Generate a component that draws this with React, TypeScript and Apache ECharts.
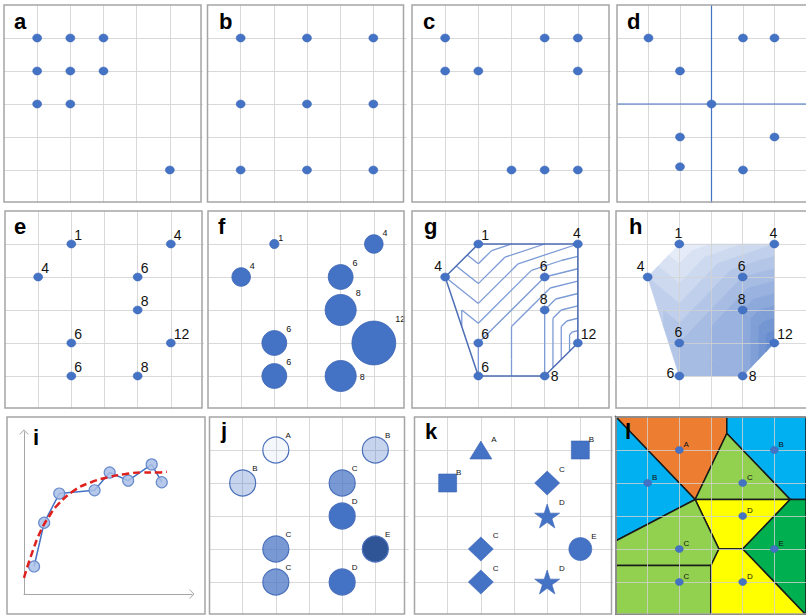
import React, { useEffect, useRef } from "react";
import * as echarts from "echarts";

// ---------------- Data ----------------
// panels a-d: point patterns
const aX = [1, 2, 3, 1, 2, 3, 1, 2, 5];
const aY = [5, 5, 5, 4, 4, 4, 3, 3, 1];
const bX = [1, 3, 5, 1, 3, 5, 1, 3, 5];
const bY = [5, 5, 5, 3, 3, 3, 1, 1, 1];
const cX = [1, 4, 5, 1, 2, 5, 3, 4, 5];
const cY = [5, 5, 5, 4, 4, 4, 1, 1, 1];
const dX = [1, 4, 5, 2, 3, 2, 5, 2, 4];
const dY = [5, 5, 5, 4, 3, 2, 2, 1.1, 1];
const dCrossX = 3;
const dCrossY = 3;

// panels e-l: sampled sites
const siteX = [2, 5, 1, 4, 4, 2, 5, 2, 4];
const siteY = [5, 5, 4, 4, 3, 2, 2, 1, 1];
const siteValue = [1, 4, 4, 6, 8, 6, 12, 6, 8];
const siteClass = ["A", "B", "B", "C", "D", "C", "E", "C", "D"];
const contourLevels = [2, 3, 4, 5, 6, 7, 8, 9, 10, 11];
const bandBreaks = [1, 2, 3, 4, 5, 6, 7, 8, 9, 10, 11, 12];

// panel i: observations and fitted curve
const iX = [0.6, 1.2, 2.1, 4.2, 5.1, 6.2, 7.6, 8.2];
const iY = [1.7, 4.4, 6.2, 6.4, 7.5, 7.0, 8.0, 6.9];
const fitX = [0, 0.5, 1, 1.5, 2, 3, 4, 5, 6, 7, 8, 8.5];
const fitY = [1.0, 2.6, 3.9, 4.8, 5.5, 6.4, 6.9, 7.2, 7.4, 7.5, 7.5, 7.55];

// ---------------- Styles / layout ----------------
const BLUE = "#4472C4";
const FONT = "'Liberation Sans', Arial, sans-serif";
const AXIS_MIN = 0;
const AXIS_MAX = 6;
const GW = 199;
const GH = 198;
const gridPos: Record<string, [number, number]> = {
  a: [4, 5], b: [207.5, 5], c: [412, 5], d: [617, 5],
  e: [5, 211], f: [208, 211], g: [412, 211], h: [616, 211],
  j: [209.5, 417], k: [414.5, 417], l: [616, 417],
};
const iGrid = { left: 24, top: 432, width: 168, height: 162 };
const frames: [number, number, number, number][] = [
  [4, 5, 197, 197], [207.5, 5, 196, 197], [412, 5, 197, 197], [617, 5, 197, 197],
  [5, 211, 197, 197], [208, 211, 196, 197], [412, 211, 197, 197], [616, 211, 197, 197],
  [7, 417, 198, 197], [209.5, 417, 195, 197], [414.5, 417, 197, 197], [616, 417, 197, 197],
];
const letters: [string, number, number][] = [
  ["a", 14, 29], ["b", 219, 29], ["c", 423, 29], ["d", 627, 29],
  ["e", 14, 234], ["f", 218, 234], ["g", 424, 234], ["h", 629, 234],
  ["i", 33, 445], ["j", 221, 438], ["k", 425, 439], ["l", 625, 439],
];
const classFillJ: Record<string, string> = {
  A: "rgba(68,114,196,0.06)", B: "rgba(68,114,196,0.3)", C: "rgba(68,114,196,0.72)", D: "#4472C4", E: "#2F5597",
};
const STAR = "path://M50,0L61.2,34.5L97.6,34.5L68.2,55.9L79.4,90.5L50,69.1L20.6,90.5L31.8,55.9L2.4,34.5L38.8,34.5Z";
const classSymbolK: Record<string, [string, number[]]> = {
  A: ["triangle", [22, 18]], B: ["rect", [18, 18]], C: ["diamond", [25, 24]], D: [STAR, [25, 24]], E: ["circle", [23, 23]],
};
const classColorL: Record<string, string> = {
  A: "#ED7D31", B: "#00B0F0", C: "#92D050", D: "#FFFF00", E: "#00B050",
};
const CHEVRON = "path://M0,10L10,0L20,10L18,10L10,2.4L2,10Z";

const ePlace = ["tr", "tr", "tr", "tr", "tr", "tr", "tr", "tr", "tr"];
const gPlace = ["tr", "t", "tl", "t", "t", "tr", "tr", "tr", "r"];
const hPlace = ["t", "t", "tl", "t", "t", "t", "tr", "l", "r"];
const fPlace = ["c", "c", "c", "c", "c", "c", "c", "c", "r"];

function placeLabel(p: string): any {
  switch (p) {
    case "t": return { position: "inside", align: "center", verticalAlign: "bottom", offset: [-1, -4] };
    case "tl": return { position: "inside", align: "right", verticalAlign: "bottom", offset: [-3, -4] };
    case "r": return { position: "inside", align: "left", verticalAlign: "middle", offset: [6, 0] };
    case "l": return { position: "inside", align: "right", verticalAlign: "middle", offset: [-5, -3] };
    default: return { position: "inside", align: "left", verticalAlign: "bottom", offset: [3, -2] };
  }
}

// ---------------- Geometry helpers ----------------
// Delaunay triangulation (brute force) with a lifted-paraboloid tie-break.
function delaunay(xs: number[], ys: number[]): number[][] {
  const n = xs.length;
  const cx0 = xs.reduce((s, v) => s + v, 0) / n;
  const cy0 = ys.reduce((s, v) => s + v, 0) / n;
  const lift = xs.map((x, i) => x * x + ys[i] * ys[i] - 1e-6 * Math.hypot(x - cx0, ys[i] - cy0));
  const tris: number[][] = [];
  for (let i = 0; i < n; i++)
    for (let j = i + 1; j < n; j++)
      for (let k = j + 1; k < n; k++) {
        let a = i, b = j, c = k;
        const orient = (xs[b] - xs[a]) * (ys[c] - ys[a]) - (ys[b] - ys[a]) * (xs[c] - xs[a]);
        if (Math.abs(orient) < 1e-12) continue;
        if (orient < 0) { const t = b; b = c; c = t; }
        let ok = true;
        for (let m = 0; m < n && ok; m++) {
          if (m === i || m === j || m === k) continue;
          const adx = xs[a] - xs[m], ady = ys[a] - ys[m], adh = lift[a] - lift[m];
          const bdx = xs[b] - xs[m], bdy = ys[b] - ys[m], bdh = lift[b] - lift[m];
          const cdx = xs[c] - xs[m], cdy = ys[c] - ys[m], cdh = lift[c] - lift[m];
          const det = adx * (bdy * cdh - bdh * cdy) - ady * (bdx * cdh - bdh * cdx) + adh * (bdx * cdy - bdy * cdx);
          if (det > 0) ok = false;
        }
        if (ok) tris.push([a, b, c]);
      }
  return tris;
}

function convexHull(xs: number[], ys: number[]): number[] {
  const idx = xs.map((_, i) => i).sort((a, b) => xs[a] - xs[b] || ys[a] - ys[b]);
  const cross = (o: number, a: number, b: number) =>
    (xs[a] - xs[o]) * (ys[b] - ys[o]) - (ys[a] - ys[o]) * (xs[b] - xs[o]);
  const lower: number[] = [];
  for (const p of idx) {
    while (lower.length >= 2 && cross(lower[lower.length - 2], lower[lower.length - 1], p) <= 0) lower.pop();
    lower.push(p);
  }
  const upper: number[] = [];
  for (const p of idx.slice().reverse()) {
    while (upper.length >= 2 && cross(upper[upper.length - 2], upper[upper.length - 1], p) <= 0) upper.pop();
    upper.push(p);
  }
  return lower.slice(0, -1).concat(upper.slice(0, -1));
}

function lerp(a: number[], b: number[], t: number): number[] {
  return a.map((v, i) => v + t * (b[i] - v));
}

function clipPoly(poly: number[][], f: (p: number[]) => number): number[][] {
  const out: number[][] = [];
  for (let i = 0; i < poly.length; i++) {
    const cur = poly[i];
    const prev = poly[(i + poly.length - 1) % poly.length];
    const fc = f(cur), fp = f(prev);
    if (fc >= 0) {
      if (fp < 0) out.push(lerp(prev, cur, fp / (fp - fc)));
      out.push(cur);
    } else if (fp >= 0) {
      out.push(lerp(prev, cur, fp / (fp - fc)));
    }
  }
  return out;
}

const TRIS = delaunay(siteX, siteY);

function contourSegments(): number[][][] {
  const segs: number[][][] = [];
  for (const L0 of contourLevels) {
    const L = L0 - 1e-6;
    for (const t of TRIS) {
      const pts: number[][] = [];
      for (const [a, b] of [[t[0], t[1]], [t[1], t[2]], [t[2], t[0]]]) {
        const va = siteValue[a] - L, vb = siteValue[b] - L;
        if (va > 0 !== vb > 0) {
          const s = va / (va - vb);
          pts.push([siteX[a] + s * (siteX[b] - siteX[a]), siteY[a] + s * (siteY[b] - siteY[a])]);
        }
      }
      if (pts.length === 2) segs.push(pts);
    }
  }
  return segs;
}

function bandColor(mid: number): string {
  const a = 0.1 + 0.75 * (mid - 1) / 11;
  const r = Math.round(255 - a * (255 - 68));
  const g = Math.round(255 - a * (255 - 114));
  const b = Math.round(255 - a * (255 - 196));
  return `rgb(${r},${g},${b})`;
}

function bandPolygons(): { pts: number[][]; fill: string }[] {
  const res: { pts: number[][]; fill: string }[] = [];
  for (let bi = 0; bi < bandBreaks.length - 1; bi++) {
    const lo = bandBreaks[bi], hi = bandBreaks[bi + 1];
    const fill = bandColor((lo + hi) / 2);
    for (const t of TRIS) {
      let poly = t.map((k) => [siteX[k], siteY[k], siteValue[k]]);
      if (bi > 0) poly = clipPoly(poly, (p) => p[2] - lo);
      if (poly.length < 3) continue;
      if (bi < bandBreaks.length - 2) poly = clipPoly(poly, (p) => hi - p[2]);
      if (poly.length < 3) continue;
      res.push({ pts: poly.map((p) => [p[0], p[1]]), fill });
    }
  }
  return res;
}

function voronoiCells(): { pts: number[][]; fill: string }[] {
  const cells: { pts: number[][]; fill: string }[] = [];
  for (let i = 0; i < siteX.length; i++) {
    let poly = [[AXIS_MIN, AXIS_MIN], [AXIS_MAX, AXIS_MIN], [AXIS_MAX, AXIS_MAX], [AXIS_MIN, AXIS_MAX]];
    for (let j = 0; j < siteX.length; j++) {
      if (j === i) continue;
      const nx = siteX[j] - siteX[i], ny = siteY[j] - siteY[i];
      const mx = (siteX[i] + siteX[j]) / 2, my = (siteY[i] + siteY[j]) / 2;
      poly = clipPoly(poly, (p) => -((p[0] - mx) * nx + (p[1] - my) * ny));
      if (poly.length < 3) break;
    }
    cells.push({ pts: poly, fill: classColorL[siteClass[i]] });
  }
  return cells;
}

function polygonSeries(ai: number, polys: { pts: number[][]; fill: string }[], stroke: string | null, lw: number, z: number): any {
  return {
    type: "custom",
    xAxisIndex: ai,
    yAxisIndex: ai,
    z,
    silent: true,
    data: polys.map((p) => p.pts[0]),
    renderItem: (params: any, api: any) => {
      const p = polys[params.dataIndex];
      return {
        type: "polygon",
        shape: { points: p.pts.map((q) => api.coord(q)) },
        style: { fill: p.fill, stroke: stroke || p.fill, lineWidth: stroke ? lw : 0.7 },
      };
    },
  };
}

// ---------------- Option ----------------
function buildOption(): any {
  const order = ["a", "b", "c", "d", "e", "f", "g", "h", "i", "j", "k", "l"];
  const grids: any[] = [];
  const xAxes: any[] = [];
  const yAxes: any[] = [];
  order.forEach((key, idx) => {
    if (key === "i") {
      grids.push({ ...iGrid });
      const ax = {
        gridIndex: idx, type: "value", min: 0, max: 10,
        axisLine: { show: true, onZero: false, symbol: ["none", CHEVRON], symbolSize: [10, 6], lineStyle: { color: "#a6a6a6", width: 1 } },
        axisTick: { show: false }, axisLabel: { show: false }, splitLine: { show: false },
      };
      xAxes.push({ ...ax });
      yAxes.push({ ...ax });
      return;
    }
    const [l, t] = gridPos[key];
    grids.push({ left: l, top: t, width: GW, height: GH });
    const overlay = key === "h" || key === "l";
    const ax = {
      gridIndex: idx, type: "value", min: AXIS_MIN, max: AXIS_MAX, interval: 1,
      axisLine: { show: false }, axisTick: { show: false }, axisLabel: { show: false },
      splitLine: {
        show: true, showMinLine: false, showMaxLine: false,
        lineStyle: { color: overlay ? "rgba(210,210,210,0.8)" : "#d9d9d9", width: 1 },
      },
      z: overlay ? 3 : 0,
    };
    xAxes.push({ ...ax });
    yAxes.push({ ...ax });
  });

  const dot = { color: BLUE, borderColor: "#3b65b3", borderWidth: 0.5, opacity: 1 };
  const simple = (ai: number, xs: number[], ys: number[], extra: any = {}) => ({
    type: "scatter", xAxisIndex: ai, yAxisIndex: ai, symbolSize: [9, 8], itemStyle: dot, z: 5,
    data: xs.map((x, i) => [x, ys[i]]), ...extra,
  });
  const valueLabel = (places: string[]) => ({
    data: siteX.map((x, i) => ({ value: [x, siteY[i]], label: placeLabel(places[i]) })),
    label: { show: true, fontSize: 14, color: "#111", fontFamily: FONT, formatter: (p: any) => String(siteValue[p.dataIndex]) },
  });
  const classLabel = (size: number, offset: number[]) => ({
    show: true, position: ["100%", "0%"], align: "left", verticalAlign: "bottom", offset,
    fontSize: size, color: "#111", fontFamily: FONT,
    formatter: (p: any) => siteClass[p.dataIndex],
  });

  const series: any[] = [];
  series.push(simple(0, aX, aY));
  series.push(simple(1, bX, bY));
  series.push(simple(2, cX, cY));
  // d: quadrat cross lines through the mean centre
  const crossLine = (pts: number[][]) => ({
    type: "line", xAxisIndex: 3, yAxisIndex: 3, z: 3, symbol: "none", silent: true,
    lineStyle: { color: BLUE, width: 1.2 }, data: pts,
  });
  series.push(crossLine([[dCrossX, AXIS_MIN], [dCrossX, AXIS_MAX]]));
  series.push(crossLine([[AXIS_MIN, dCrossY], [AXIS_MAX, dCrossY]]));
  series.push(simple(3, dX, dY));
  // e
  series.push(simple(4, siteX, siteY, valueLabel(ePlace)));
  // f bubbles
  series.push({
    type: "scatter", xAxisIndex: 5, yAxisIndex: 5, z: 5,
    itemStyle: { color: BLUE, borderColor: "#3b65b3", borderWidth: 0.8, opacity: 1 },
    symbolSize: (v: number[]) => 6 + 3.15 * v[2],
    data: siteX.map((x, i) => ({
      value: [x, siteY[i], siteValue[i]],
      label: fPlace[i] === "r"
        ? { position: "right", align: "left", verticalAlign: "middle", offset: [-2, 1] }
        : { position: ["100%", "0%"], align: "left", verticalAlign: "bottom", offset: [-1, 3] },
    })),
    label: { show: true, fontSize: 9, color: "#111", fontFamily: FONT, formatter: (p: any) => String(siteValue[p.dataIndex]) },
  });
  // g contours
  const segs = contourSegments();
  series.push({
    type: "custom", xAxisIndex: 6, yAxisIndex: 6, z: 3, silent: true,
    data: segs.map((s) => s[0]),
    renderItem: (params: any, api: any) => {
      const s = segs[params.dataIndex];
      const p1 = api.coord(s[0]);
      const p2 = api.coord(s[1]);
      return { type: "line", shape: { x1: p1[0], y1: p1[1], x2: p2[0], y2: p2[1] }, style: { stroke: "#7c9ad6", lineWidth: 1.3 } };
    },
  });
  const hull = convexHull(siteX, siteY);
  series.push({
    type: "line", xAxisIndex: 6, yAxisIndex: 6, z: 4, symbol: "none", silent: true,
    lineStyle: { color: "#4d6db5", width: 1.5 },
    data: hull.concat([hull[0]]).map((k) => [siteX[k], siteY[k]]),
  });
  series.push(simple(6, siteX, siteY, valueLabel(gPlace)));
  // h filled bands
  series.push(polygonSeries(7, bandPolygons(), null, 0.7, 2));
  series.push(simple(7, siteX, siteY, valueLabel(hPlace)));
  // i
  series.push({
    type: "line", xAxisIndex: 8, yAxisIndex: 8, z: 3,
    data: iX.map((x, k) => [x, iY[k]]),
    lineStyle: { color: BLUE, width: 1.5 },
    symbol: "circle", symbolSize: 11, showSymbol: true,
    itemStyle: { color: "rgba(170,192,230,0.85)", borderColor: "#6a8bcd", borderWidth: 1.2 },
  });
  series.push({
    type: "line", xAxisIndex: 8, yAxisIndex: 8, z: 4, smooth: true, symbol: "none", silent: true,
    data: fitX.map((x, k) => [x, fitY[k]]),
    lineStyle: { color: "#e0201c", width: 2.5, type: [7, 4] },
  });
  // j
  series.push({
    type: "scatter", xAxisIndex: 9, yAxisIndex: 9, z: 5, symbolSize: 26,
    data: siteX.map((x, i) => ({
      value: [x, siteY[i]],
      itemStyle: { color: classFillJ[siteClass[i]], borderColor: "#4a6fbb", borderWidth: 1.2, opacity: 1 },
    })),
    label: classLabel(8, [-4, 3]),
  });
  // k
  series.push({
    type: "scatter", xAxisIndex: 10, yAxisIndex: 10, z: 5,
    itemStyle: { color: BLUE, borderColor: "#3b65b3", borderWidth: 0.6, opacity: 1 },
    data: siteX.map((x, i) => ({
      value: [x, siteY[i]],
      symbol: classSymbolK[siteClass[i]][0],
      symbolSize: classSymbolK[siteClass[i]][1],
    })),
    label: classLabel(8, [-1, 3]),
  });
  // l voronoi
  series.push(polygonSeries(11, voronoiCells(), "#1a1a1a", 1.5, 2));
  series.push({
    type: "scatter", xAxisIndex: 11, yAxisIndex: 11, z: 5, symbolSize: [8, 7],
    itemStyle: { color: BLUE, borderColor: "#3b65b3", borderWidth: 0.5, opacity: 1 },
    data: siteX.map((x, i) => [x, siteY[i]]),
    label: classLabel(8, [0, 2]),
  });

  const graphics: any[] = [];
  frames.forEach(([x, y, w, h]) => {
    graphics.push({
      type: "rect", z: 100, silent: true,
      shape: { x, y, width: w, height: h },
      style: { fill: "none", stroke: "#a5a5a5", lineWidth: 1.5 },
    });
  });
  letters.forEach(([ch, x, base]) => {
    graphics.push({
      type: "text", z: 101, silent: true,
      style: {
        text: ch, x, y: base - 18.7, align: "left", verticalAlign: "top",
        fontSize: 22, fontWeight: "bold", fontFamily: FONT, fill: "#000",
      },
    });
  });

  return {
    animation: false,
    backgroundColor: "#ffffff",
    grid: grids,
    xAxis: xAxes,
    yAxis: yAxes,
    series,
    graphic: { elements: graphics },
  };
}

export default function App() {
  const ref = useRef<HTMLDivElement>(null);
  useEffect(() => {
    if (!ref.current) return;
    const chart = echarts.init(ref.current, null, { renderer: "svg" });
    chart.setOption(buildOption());
    return () => chart.dispose();
  }, []);
  return (
    <div
      ref={ref}
      style={{ position: "absolute", left: 0, top: 0, width: 806, height: 615, background: "#fff" }}
    />
  );
}
